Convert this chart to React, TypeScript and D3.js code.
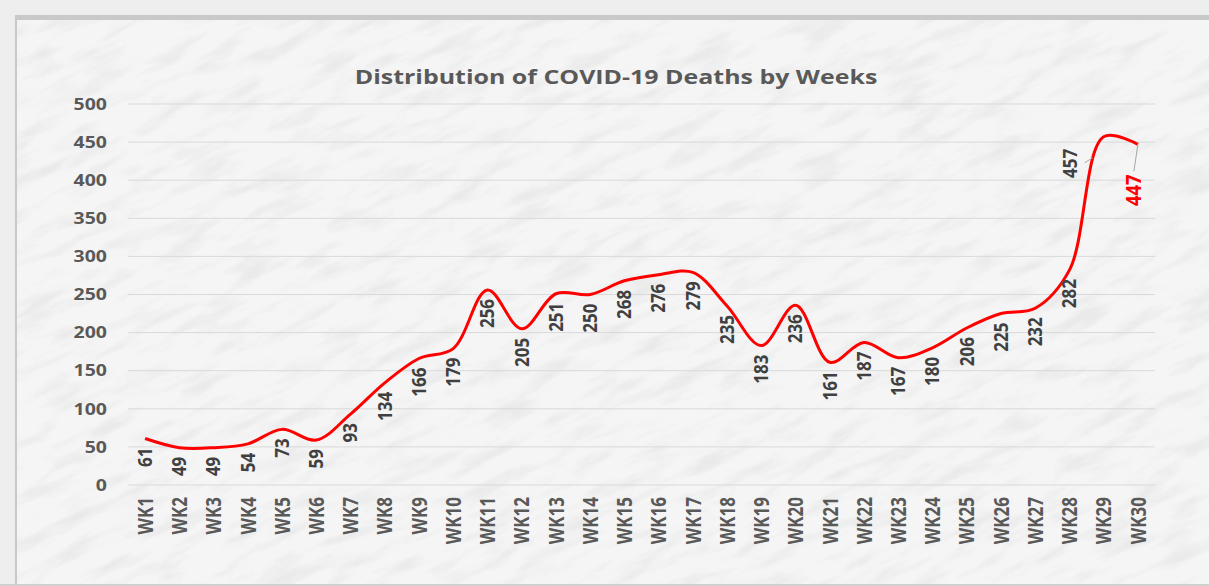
import React from "react";
import * as d3 from "d3";

const weeks = ["WK1","WK2","WK3","WK4","WK5","WK6","WK7","WK8","WK9","WK10","WK11","WK12","WK13","WK14","WK15","WK16","WK17","WK18","WK19","WK20","WK21","WK22","WK23","WK24","WK25","WK26","WK27","WK28","WK29","WK30"];
const deaths = [61,49,49,54,73,59,93,134,166,179,256,205,251,250,268,276,279,235,183,236,161,187,167,180,206,225,232,282,457,447];
const yTicks = [0,50,100,150,200,250,300,350,400,450,500];
const title = "Distribution of COVID-19 Deaths by Weeks";

const W = 1209, H = 586;
const FONT = "'Open Sans', sans-serif";

export default function App() {
  const x = d3.scaleBand<string>().domain(weeks).range([128, 1155]);
  const y = d3.scaleLinear().domain([0, 500]).range([485, 104]);
  const cx = (i: number) => (x(weeks[i]) as number) + x.bandwidth() / 2;
  const line = d3.line<number>().x((_, i) => cx(i)).y((d) => y(d)).curve(d3.curveCatmullRom.alpha(0.5));
  const n = deaths.length;

  const lbl = (key: any, tx: number, ty: number, s: number, size: number, fill: string, text: any) => (
    <text key={key} transform={`translate(${tx},${ty}) scale(${s},1) rotate(-90)`} dy="0.35em" textAnchor="end" fontFamily={FONT} fontWeight="bold" fontSize={size} fill={fill}>{text}</text>
  );

  return (
    <svg width={W} height={H} style={{ position: "absolute", left: 0, top: 0 }}>
      <defs>
        <filter id="marble" x="0" y="0" width="100%" height="100%">
          <feTurbulence type="fractalNoise" baseFrequency="0.018 0.07" numOctaves="5" seed="11" result="t" />
          <feColorMatrix in="t" type="matrix" values="0 0 0 0 0.6  0 0 0 0 0.6  0 0 0 0 0.61  0 0 0 -3 1.6" />
        </filter>
      </defs>
      <rect x={0} y={0} width={W} height={H} fill="#eeeeee" />
      <rect x={17} y={20} width={W} height={H - 22} fill="#f5f5f5" />
      <g transform="rotate(-25 600 300)">
        <rect x={-300} y={-400} width={1900} height={1400} filter="url(#marble)" opacity={0.25} />
      </g>
      <rect x={0} y={0} width={15} height={H} fill="#eeeeee" />
      <rect x={15} y={15} width={2} height={H - 15} fill="#c9c9c9" />
      <rect x={0} y={0} width={W} height={15} fill="#eeeeee" />
      <rect x={15} y={15} width={W} height={5} fill="#c9c9c9" />
      <rect x={0} y={H - 2} width={W} height={2} fill="#d0d0d0" />

      <text transform="translate(616,84) scale(1.28,1)" textAnchor="middle" fontFamily={FONT} fontWeight="bold" fontSize={19.5} fill="#595959">{title}</text>

      {yTicks.map((t) => (
        <g key={t}>
          <line x1={128} x2={1155} y1={y(t)} y2={y(t)} stroke="#d9d9d9" strokeWidth={1} />
          <text transform={`translate(107,${y(t)}) scale(1.18,1)`} dy="0.35em" textAnchor="end" fontFamily={FONT} fontWeight="bold" fontSize={16.5} fill="#595959">{t}</text>
        </g>
      ))}

      {weeks.map((w, i) => lbl(w, cx(i), 497, 1.3, 17, "#595959", w))}

      <path d={line(deaths) || ""} fill="none" stroke="#ff0000" strokeWidth={3} />

      {deaths.map((d, i) => {
        if (i === n - 2) {
          return (
            <g key={i}>
              <line x1={cx(i) - 19} y1={y(d) + 26} x2={cx(i) - 11} y2={y(d) + 21} stroke="#a6a6a6" strokeWidth={1} />
              {lbl("l", cx(i) - 34, y(d) + 12, 1.15, 17, "#404040", d)}
            </g>
          );
        }
        if (i === n - 1) {
          return (
            <g key={i}>
              <line x1={cx(i)} y1={y(d)} x2={cx(i) - 4} y2={y(d) + 27} stroke="#a6a6a6" strokeWidth={1} />
              {lbl("l", cx(i) - 4, y(d) + 30, 1.15, 18.5, "#ff0000", d)}
            </g>
          );
        }
        return lbl(i, cx(i), y(d) + 9, 1.15, 17, "#404040", d);
      })}
    </svg>
  );
}
